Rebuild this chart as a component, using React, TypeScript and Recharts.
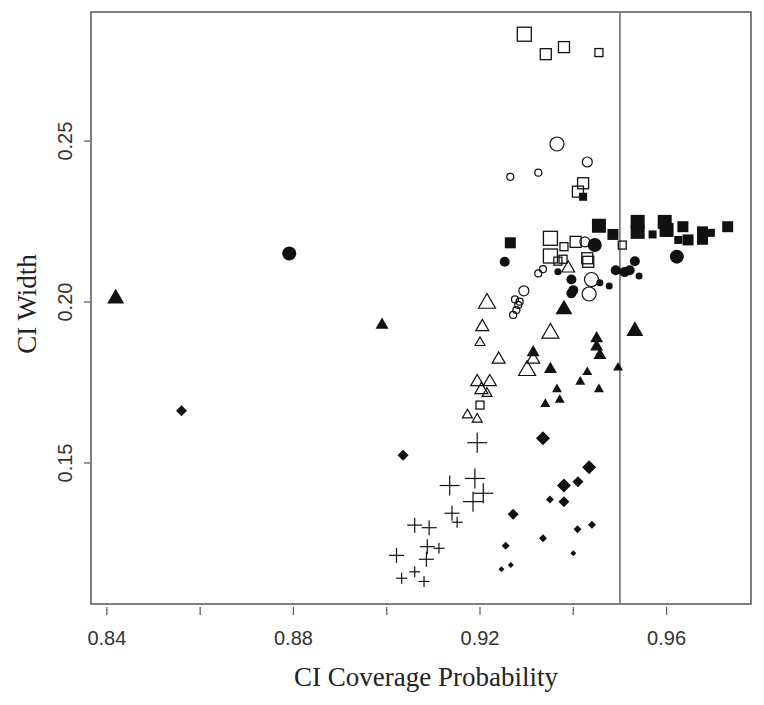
import React from 'react';
import { ScatterChart, Scatter, XAxis, YAxis, ReferenceLine, ReferenceArea } from 'recharts';

type P = { x: number; y: number; g: number };

// g = size group of the point (0 tiny, 1 small, 2 medium, 3 large)
const openSquares: P[] = [
  { x: 0.9295, y: 0.2832, g: 3 }, { x: 0.9341, y: 0.2770, g: 2 }, { x: 0.9380, y: 0.2792, g: 2 },
  { x: 0.9455, y: 0.2775, g: 1 }, { x: 0.9421, y: 0.2369, g: 2 }, { x: 0.9410, y: 0.2343, g: 2 },
  { x: 0.9351, y: 0.2198, g: 3 }, { x: 0.9380, y: 0.2172, g: 1 }, { x: 0.9405, y: 0.2187, g: 2 },
  { x: 0.9505, y: 0.2177, g: 1 }, { x: 0.9351, y: 0.2143, g: 3 }, { x: 0.9367, y: 0.2127, g: 1 },
  { x: 0.9378, y: 0.2133, g: 1 }, { x: 0.9430, y: 0.2136, g: 2 }, { x: 0.9432, y: 0.2125, g: 2 },
  { x: 0.9200, y: 0.1680, g: 1 },
];

const filledSquares: P[] = [
  { x: 0.9265, y: 0.2184, g: 2 }, { x: 0.9455, y: 0.2237, g: 3 }, { x: 0.9485, y: 0.2210, g: 2 },
  { x: 0.9538, y: 0.2249, g: 3 }, { x: 0.9538, y: 0.2218, g: 3 }, { x: 0.9596, y: 0.2249, g: 3 },
  { x: 0.9600, y: 0.2224, g: 3 }, { x: 0.9570, y: 0.2210, g: 1 }, { x: 0.9635, y: 0.2234, g: 2 },
  { x: 0.9646, y: 0.2193, g: 2 }, { x: 0.9625, y: 0.2193, g: 1 }, { x: 0.9677, y: 0.2218, g: 2 },
  { x: 0.9677, y: 0.2195, g: 2 }, { x: 0.9695, y: 0.2215, g: 1 }, { x: 0.9731, y: 0.2234, g: 2 },
  { x: 0.9421, y: 0.2327, g: 1 },
];

const openCircles: P[] = [
  { x: 0.9365, y: 0.2491, g: 3 }, { x: 0.9430, y: 0.2435, g: 2 }, { x: 0.9325, y: 0.2402, g: 1 },
  { x: 0.9265, y: 0.2389, g: 1 }, { x: 0.9425, y: 0.2187, g: 2 }, { x: 0.9325, y: 0.2089, g: 1 },
  { x: 0.9335, y: 0.2102, g: 1 }, { x: 0.9439, y: 0.2070, g: 3 }, { x: 0.9434, y: 0.2025, g: 3 },
  { x: 0.9294, y: 0.2035, g: 2 }, { x: 0.9275, y: 0.2008, g: 1 }, { x: 0.9285, y: 0.2001, g: 1 },
  { x: 0.9282, y: 0.1991, g: 1 }, { x: 0.9278, y: 0.1975, g: 1 }, { x: 0.9271, y: 0.1960, g: 1 },
];

const filledCircles: P[] = [
  { x: 0.8791, y: 0.2151, g: 3 }, { x: 0.9446, y: 0.2177, g: 3 }, { x: 0.9253, y: 0.2125, g: 2 },
  { x: 0.9367, y: 0.2094, g: 1 }, { x: 0.9396, y: 0.2070, g: 2 }, { x: 0.9400, y: 0.2037, g: 2 },
  { x: 0.9396, y: 0.2027, g: 2 }, { x: 0.9457, y: 0.2060, g: 1 }, { x: 0.9477, y: 0.2050, g: 1 },
  { x: 0.9491, y: 0.2099, g: 2 }, { x: 0.9521, y: 0.2099, g: 2 }, { x: 0.9532, y: 0.2127, g: 2 },
  { x: 0.9541, y: 0.2081, g: 1 }, { x: 0.9622, y: 0.2141, g: 3 }, { x: 0.9510, y: 0.2093, g: 2 },
];

const openTriangles: P[] = [
  { x: 0.9215, y: 0.1996, g: 3 }, { x: 0.9389, y: 0.2105, g: 2 }, { x: 0.9205, y: 0.1923, g: 2 },
  { x: 0.9351, y: 0.1903, g: 3 }, { x: 0.9200, y: 0.1874, g: 1 }, { x: 0.9240, y: 0.1822, g: 2 },
  { x: 0.9314, y: 0.1822, g: 2 }, { x: 0.9301, y: 0.1787, g: 3 }, { x: 0.9194, y: 0.1752, g: 2 },
  { x: 0.9221, y: 0.1752, g: 2 }, { x: 0.9203, y: 0.1727, g: 2 }, { x: 0.9215, y: 0.1716, g: 1 },
  { x: 0.9173, y: 0.1649, g: 1 }, { x: 0.9194, y: 0.1636, g: 1 },
];

const filledTriangles: P[] = [
  { x: 0.8419, y: 0.2011, g: 3 }, { x: 0.8990, y: 0.1929, g: 2 }, { x: 0.9380, y: 0.1977, g: 3 },
  { x: 0.9532, y: 0.1910, g: 3 }, { x: 0.9450, y: 0.1887, g: 2 }, { x: 0.9450, y: 0.1861, g: 2 },
  { x: 0.9457, y: 0.1835, g: 2 }, { x: 0.9314, y: 0.1843, g: 2 }, { x: 0.9351, y: 0.1791, g: 2 },
  { x: 0.9430, y: 0.1782, g: 1 }, { x: 0.9496, y: 0.1796, g: 1 }, { x: 0.9415, y: 0.1752, g: 1 },
  { x: 0.9365, y: 0.1729, g: 1 }, { x: 0.9455, y: 0.1729, g: 1 }, { x: 0.9340, y: 0.1683, g: 1 },
  { x: 0.9371, y: 0.1696, g: 1 },
];

const pluses: P[] = [
  { x: 0.9194, y: 0.1563, g: 3 }, { x: 0.9189, y: 0.1452, g: 3 }, { x: 0.9135, y: 0.1430, g: 3 },
  { x: 0.9207, y: 0.1406, g: 3 }, { x: 0.9185, y: 0.1380, g: 3 }, { x: 0.9140, y: 0.1344, g: 2 },
  { x: 0.9151, y: 0.1316, g: 1 }, { x: 0.9060, y: 0.1307, g: 2 }, { x: 0.9091, y: 0.1299, g: 2 },
  { x: 0.9087, y: 0.1240, g: 2 }, { x: 0.9112, y: 0.1235, g: 1 }, { x: 0.9021, y: 0.1213, g: 2 },
  { x: 0.9085, y: 0.1201, g: 2 }, { x: 0.9060, y: 0.1162, g: 1 }, { x: 0.9032, y: 0.1142, g: 1 },
  { x: 0.9080, y: 0.1132, g: 1 },
];

const diamonds: P[] = [
  { x: 0.8560, y: 0.1662, g: 2 }, { x: 0.9035, y: 0.1524, g: 2 }, { x: 0.9335, y: 0.1577, g: 3 },
  { x: 0.9434, y: 0.1487, g: 3 }, { x: 0.9410, y: 0.1442, g: 2 }, { x: 0.9380, y: 0.1430, g: 3 },
  { x: 0.9350, y: 0.1387, g: 1 }, { x: 0.9380, y: 0.1380, g: 2 }, { x: 0.9271, y: 0.1341, g: 2 },
  { x: 0.9255, y: 0.1243, g: 1 }, { x: 0.9335, y: 0.1266, g: 1 }, { x: 0.9409, y: 0.1294, g: 1 },
  { x: 0.9440, y: 0.1308, g: 1 }, { x: 0.9400, y: 0.1220, g: 0 }, { x: 0.9246, y: 0.1170, g: 0 },
  { x: 0.9266, y: 0.1183, g: 0 },
];

const X_TICKS = [0.84, 0.86, 0.88, 0.9, 0.92, 0.94, 0.96];
const X_LABELS = ['0.84', '', '0.88', '', '0.92', '', '0.96'];
const Y_TICKS = [0.15, 0.2, 0.25];
const Y_LABELS = ['0.15', '0.20', '0.25'];
const X_DOMAIN: [number, number] = [0.8366, 0.9781];
const Y_DOMAIN: [number, number] = [0.1062, 0.2901];
const REF_X = 0.95;

const INK = '#111';
const FRAME = '#555';
const SANS = '"Liberation Sans", Arial, sans-serif';
const SERIF = '"Liberation Serif", "Times New Roman", serif';

const SQ = [6, 8, 11, 14];
const CI = [6, 7, 10, 14];
const TR = [8, 10, 13, 17];
const PL = [9, 11, 15, 20];
const DM = [6, 8, 11, 14];

function makeShape(kind: string) {
  return (props: any) => {
    const { cx, cy, payload } = props;
    if (cx == null || cy == null) return <g />;
    const g: number = payload.g;
    switch (kind) {
      case 'openSquare': {
        const s = SQ[g];
        return <rect x={cx - s / 2} y={cy - s / 2} width={s} height={s} fill="none" stroke={INK} strokeWidth={1.3} />;
      }
      case 'filledSquare': {
        const s = SQ[g];
        return <rect x={cx - s / 2} y={cy - s / 2} width={s} height={s} fill={INK} />;
      }
      case 'openCircle': {
        const s = CI[g];
        return <circle cx={cx} cy={cy} r={s / 2} fill="none" stroke={INK} strokeWidth={1.2} />;
      }
      case 'filledCircle': {
        const s = CI[g];
        return <circle cx={cx} cy={cy} r={s / 2} fill={INK} />;
      }
      case 'openTriangle':
      case 'filledTriangle': {
        const s = TR[g];
        const h = s * 0.866;
        const pts = `${cx},${cy - (h * 2) / 3} ${cx - s / 2},${cy + h / 3} ${cx + s / 2},${cy + h / 3}`;
        return kind === 'openTriangle'
          ? <polygon points={pts} fill="none" stroke={INK} strokeWidth={1.2} />
          : <polygon points={pts} fill={INK} />;
      }
      case 'plus': {
        const s = PL[g] / 2;
        return (
          <g stroke={INK} strokeWidth={1.2}>
            <line x1={cx - s} y1={cy} x2={cx + s} y2={cy} />
            <line x1={cx} y1={cy - s} x2={cx} y2={cy + s} />
          </g>
        );
      }
      case 'diamond': {
        const r = DM[g] / 2;
        return <polygon points={`${cx},${cy - r} ${cx + r},${cy} ${cx},${cy + r} ${cx - r},${cy}`} fill={INK} />;
      }
    }
    return <g />;
  };
}

const XTick = (props: any) => {
  const { x, y, index } = props;
  return (
    <g>
      <line x1={x} y1={y + 3} x2={x} y2={y + 11} stroke="#555" strokeWidth={1.2} />
      <text x={x} y={y + 41} textAnchor="middle" fontFamily={SANS} fontSize={20} fill="#333">
        {X_LABELS[index]}
      </text>
    </g>
  );
};

const YTick = (props: any) => {
  const { x, y, index } = props;
  return (
    <g>
      <line x1={x - 7} y1={y} x2={x - 1} y2={y} stroke="#555" strokeWidth={1.2} />
      <text x={x - 19} y={y} transform={`rotate(-90, ${x - 19}, ${y})`} textAnchor="middle" fontFamily={SANS} fontSize={20} fill="#333">
        {Y_LABELS[index]}
      </text>
    </g>
  );
};

const XTitle = (props: any) => {
  const { viewBox } = props;
  const cx = viewBox.x + viewBox.width / 2 + 5;
  return (
    <text x={cx} y={viewBox.y + 82} textAnchor="middle" fontFamily={SERIF} fontSize={27} fill="#222">
      CI Coverage Probability
    </text>
  );
};

const YTitle = (props: any) => {
  const { viewBox } = props;
  const cy = viewBox.y + viewBox.height / 2 - 4;
  const x = 36;
  return (
    <text x={x} y={cy} transform={`rotate(-90, ${x}, ${cy})`} textAnchor="middle" fontFamily={SERIF} fontSize={27} fill="#222">
      CI Width
    </text>
  );
};

const series: [string, P[]][] = [
  ['openSquare', openSquares],
  ['filledSquare', filledSquares],
  ['openCircle', openCircles],
  ['filledCircle', filledCircles],
  ['openTriangle', openTriangles],
  ['filledTriangle', filledTriangles],
  ['plus', pluses],
  ['diamond', diamonds],
];

export default function App() {
  return (
    <div style={{ position: 'absolute', left: 0, top: 0, width: 764, height: 705, background: '#fff' }}>
      <ScatterChart width={764} height={705} margin={{ top: 12, right: 13, bottom: 41, left: 0 }}>
        <XAxis
          type="number"
          dataKey="x"
          domain={X_DOMAIN}
          ticks={X_TICKS}
          allowDataOverflow
          axisLine={false}
          tickLine={false}
          tickSize={0}
          tickMargin={0}
          height={60}
          tick={<XTick />}
          label={<XTitle />}
          interval={0}
        />
        <YAxis
          type="number"
          dataKey="y"
          domain={Y_DOMAIN}
          ticks={Y_TICKS}
          allowDataOverflow
          axisLine={false}
          tickLine={false}
          tickSize={0}
          tickMargin={0}
          width={91}
          tick={<YTick />}
          label={<YTitle />}
          interval={0}
        />
        <ReferenceArea x1={X_DOMAIN[0]} x2={X_DOMAIN[1]} y1={Y_DOMAIN[0]} y2={Y_DOMAIN[1]} fill="none" stroke={FRAME} strokeWidth={1.5} fillOpacity={0} />
        <ReferenceLine x={REF_X} stroke="#666" strokeWidth={1.5} />
        {series.map(([kind, data]) => (
          <Scatter key={kind} data={data} isAnimationActive={false} shape={makeShape(kind)} />
        ))}
      </ScatterChart>
    </div>
  );
}
